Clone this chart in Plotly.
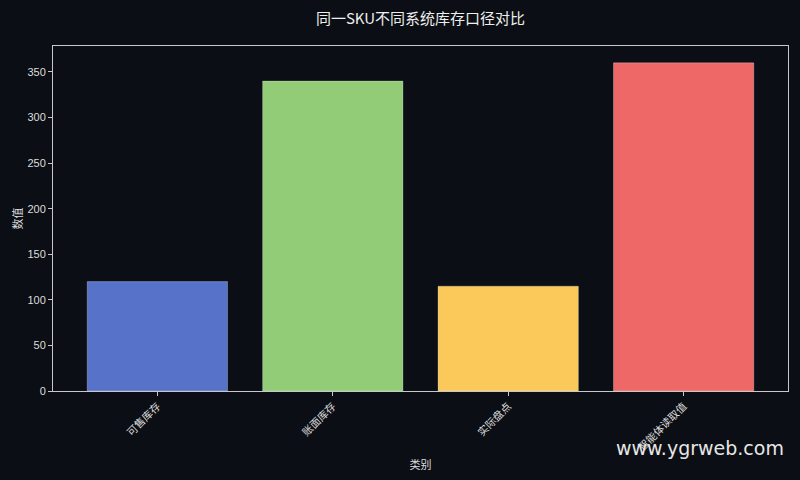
import plotly.graph_objects as go

categories = ["可售库存", "账面库存", "实际盘点", "智能体读取值"]
values = [120, 340, 115, 360]
colors = ["#5773c9", "#93cc77", "#fac95a", "#ee6868"]

bg = "#0b0e14"
fg = "#dddddd"
font_family = "Liberation Sans, Noto Sans CJK SC, sans-serif"

L, R, T, B = 53, 12, 46, 89

fig = go.Figure(
    go.Bar(
        x=categories,
        y=values,
        marker=dict(color=colors, line=dict(color="rgba(255,255,255,0.25)", width=1)),
        width=0.8,
    )
)

fig.update_layout(
    width=800,
    height=480,
    paper_bgcolor=bg,
    plot_bgcolor=bg,
    margin=dict(l=L, r=R, t=T, b=B),
    font=dict(family=font_family, color=fg, size=11),
    title=dict(
        text="同一SKU不同系统库存口径对比",
        x=(L + 800 - R) / 2 / 800,
        xanchor="center",
        y=1 - 19 / 480,
        yanchor="middle",
        font=dict(size=15, color="#eeeeee", family="Noto Sans CJK SC, sans-serif"),
    ),
    showlegend=False,
)

fig.update_xaxes(
    range=[-0.595, 3.595],
    automargin=False,
    showgrid=False,
    showline=True,
    linecolor="#c8c8c8",
    linewidth=1,
    mirror=True,
    ticks="outside",
    ticklen=4,
    tickcolor="#c8c8c8",
    tickangle=-45,
    tickfont=dict(size=10.5, color=fg, family="Noto Sans CJK SC, sans-serif"),
    title=dict(text="类别", font=dict(size=11, color=fg, family="Noto Sans CJK SC, sans-serif"), standoff=8),
)

fig.update_yaxes(
    range=[0, 378.5],
    automargin=False,
    tickvals=[0, 50, 100, 150, 200, 250, 300, 350],
    showgrid=False,
    zeroline=False,
    showline=True,
    linecolor="#c8c8c8",
    linewidth=1,
    mirror=True,
    ticks="outside",
    ticklen=4,
    tickcolor="#c8c8c8",
    tickfont=dict(size=11, color=fg),
    title=dict(text="数值", font=dict(size=11, color=fg, family="Noto Sans CJK SC, sans-serif"), standoff=2),
)

fig.add_annotation(
    text="www.ygrweb.com",
    xref="paper", yref="paper",
    x=(700 - L) / (800 - L - R), y=(391 - 448) / (480 - T - B),
    xanchor="center", yanchor="middle",
    showarrow=False,
    font=dict(size=19, color="#e6e6e6", family="DejaVu Sans, sans-serif"),
)

fig.write_html(
    "out.html",
    config={"displayModeBar": False},
    post_script="document.body.style.margin='0';document.body.style.background='#0b0e14';",
)
